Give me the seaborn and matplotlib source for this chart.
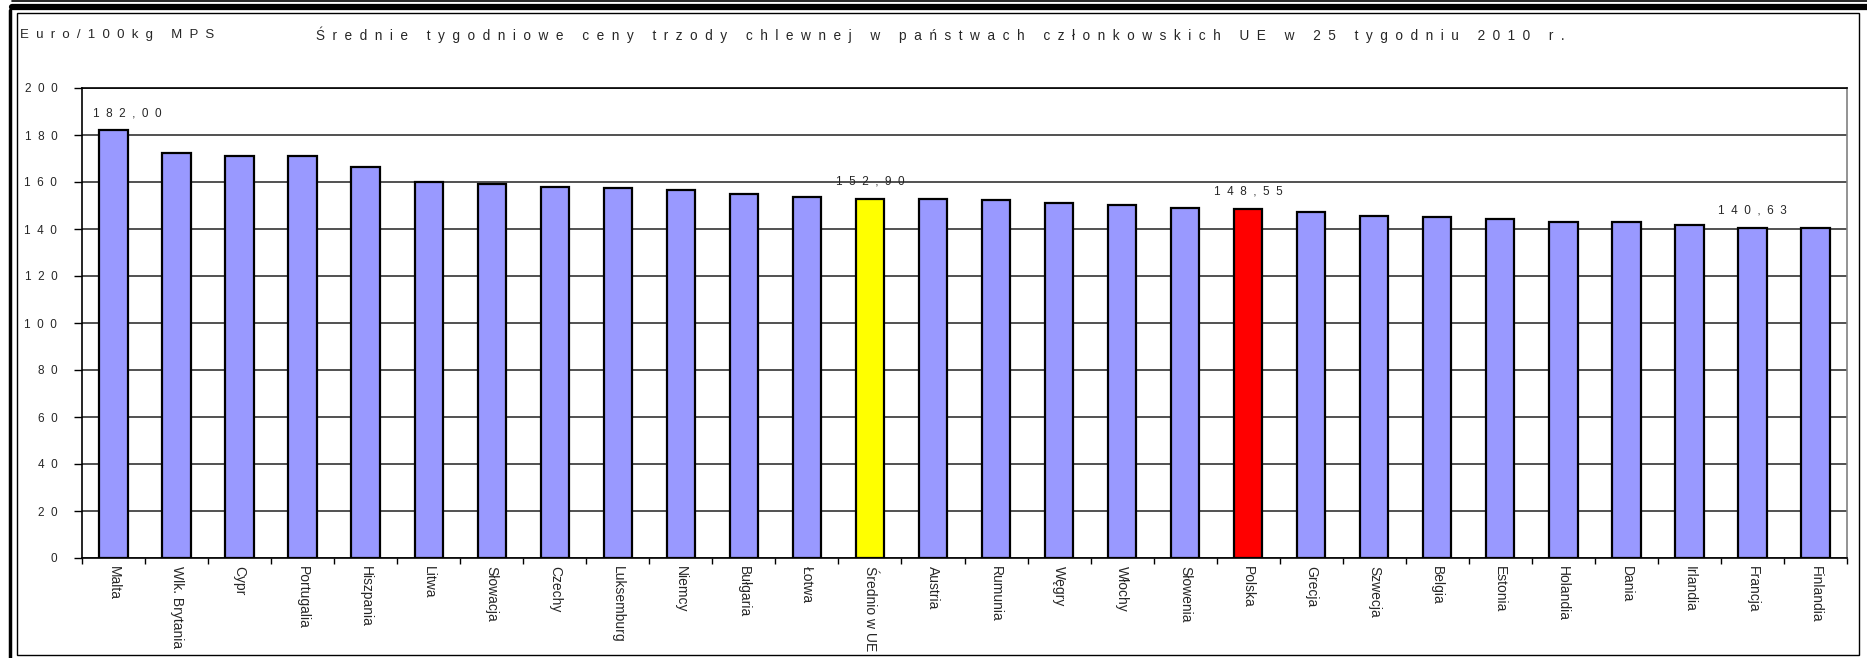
import matplotlib
matplotlib.use("Agg")
import matplotlib.pyplot as plt
import seaborn as sns
import pandas as pd
from matplotlib.ticker import FuncFormatter, FixedLocator
from matplotlib.lines import Line2D
from matplotlib.patches import Rectangle

# -------------------------------
# Data
# -------------------------------
countries = [
    "Malta", "Wlk. Brytania", "Cypr", "Portugalia", "Hiszpania", "Litwa",
    "Słowacja", "Czechy", "Luksemburg", "Niemcy", "Bułgaria", "Łotwa",
    "Średnio w UE", "Austria", "Rumunia", "Węgry", "Włochy", "Słowenia",
    "Polska", "Grecja", "Szwecja", "Belgia", "Estonia", "Holandia",
    "Dania", "Irlandia", "Francja", "Finlandia",
]
prices = [
    182.00, 172.5, 171.1, 171.0, 166.4, 160.2,
    159.3, 157.9, 157.3, 156.5, 155.0, 153.7,
    152.90, 152.7, 152.2, 150.9, 150.1, 149.0,
    148.55, 147.4, 145.5, 145.2, 144.1, 142.9,
    142.8, 141.5, 140.63, 140.3,
]
labelled = ["Malta", "Średnio w UE", "Polska", "Francja"]
y_ticks = [0, 20, 40, 60, 80, 100, 120, 140, 160, 180, 200]

title = "Średnie tygodniowe ceny trzody chlewnej w państwach członkowskich UE w 25 tygodniu 2010 r."
unit = "Euro/100kg MPS"

BAR = "#9999ff"
colors = {c: BAR for c in countries}
colors["Średnio w UE"] = "#ffff00"
colors["Polska"] = "#ff0000"


def spaced(s):
    # wide letter spacing like the original Excel chart
    return "  ".join(s)


df = pd.DataFrame({"kraj": countries, "cena": prices})

sns.set_style("white")
plt.rcParams["font.family"] = ["Liberation Sans", "DejaVu Sans"]

W, H = 1867, 658
fig = plt.figure(figsize=(W / 100, H / 100), dpi=100)
ax = fig.add_axes([82 / W, 1 - 558 / H, (1847 - 82) / W, (558 - 88) / H])

sns.barplot(data=df, x="kraj", y="cena", hue="kraj", palette=colors,
            legend=False, width=0.45, edgecolor="black", linewidth=1.6,
            saturation=1, ax=ax, zorder=3)

ax.set_ylim(0, 200)
ax.set_xlim(-0.5, len(countries) - 0.5)
ax.yaxis.set_major_locator(FixedLocator(y_ticks))
ax.yaxis.set_major_formatter(FuncFormatter(lambda v, p: spaced(str(int(v)))))
ax.grid(axis="y", color="#333333", linewidth=1.2, zorder=0)
ax.set_axisbelow(True)
ax.set_xlabel("")
ax.set_ylabel("")

ax.tick_params(axis="y", length=5.8, width=1, color="black", pad=12,
               labelsize=8.5, left=True)
ax.tick_params(axis="x", which="major", length=0, pad=6, labelsize=10,
               labelrotation=270)
ax.xaxis.set_minor_locator(FixedLocator([i - 0.5 for i in range(len(countries) + 1)]))
ax.tick_params(axis="x", which="minor", length=4.5, width=1, color="black", bottom=True)
for lab in ax.get_xticklabels():
    lab.set_va("top")
    lab.set_ha("center")

for side in ["left", "top", "bottom"]:
    ax.spines[side].set_color("black")
    ax.spines[side].set_linewidth(1.2)
ax.spines["right"].set_color("#808080")
ax.spines["right"].set_linewidth(1.2)

# value labels (the first one sits a little to the right, as in the original)
for i, (c, v) in enumerate(zip(countries, prices)):
    if c in labelled:
        dx = 10 if i == 0 else 0
        ax.annotate(spaced(f"{v:.2f}".replace(".", ",")), (i, v),
                    xytext=(dx, 8), textcoords="offset points",
                    ha="center", va="bottom", fontsize=8.5, zorder=5)

fig.text(20 / W, 1 - 35 / H, spaced(unit), ha="left", va="center", fontsize=9.5)
fig.text(940 / W, 1 - 35 / H, spaced(title), ha="center", va="center", fontsize=9.8)

# frame around the chart
fig.add_artist(Line2D([12 / W, 1], [1 - 1 / H] * 2, color="black", linewidth=1.2))
fig.add_artist(Line2D([12 / W, 1], [1 - 7 / H] * 2, color="black", linewidth=4.5))
fig.add_artist(Line2D([10 / W] * 2, [0, 1 - 10 / H], color="black", linewidth=2.5))
fig.add_artist(Rectangle((17 / W, 3 / H), (1859 - 17) / W, (655 - 13) / H,
                         transform=fig.transFigure, fill=False,
                         edgecolor="black", linewidth=1))

fig.savefig("out.png", dpi=100)
